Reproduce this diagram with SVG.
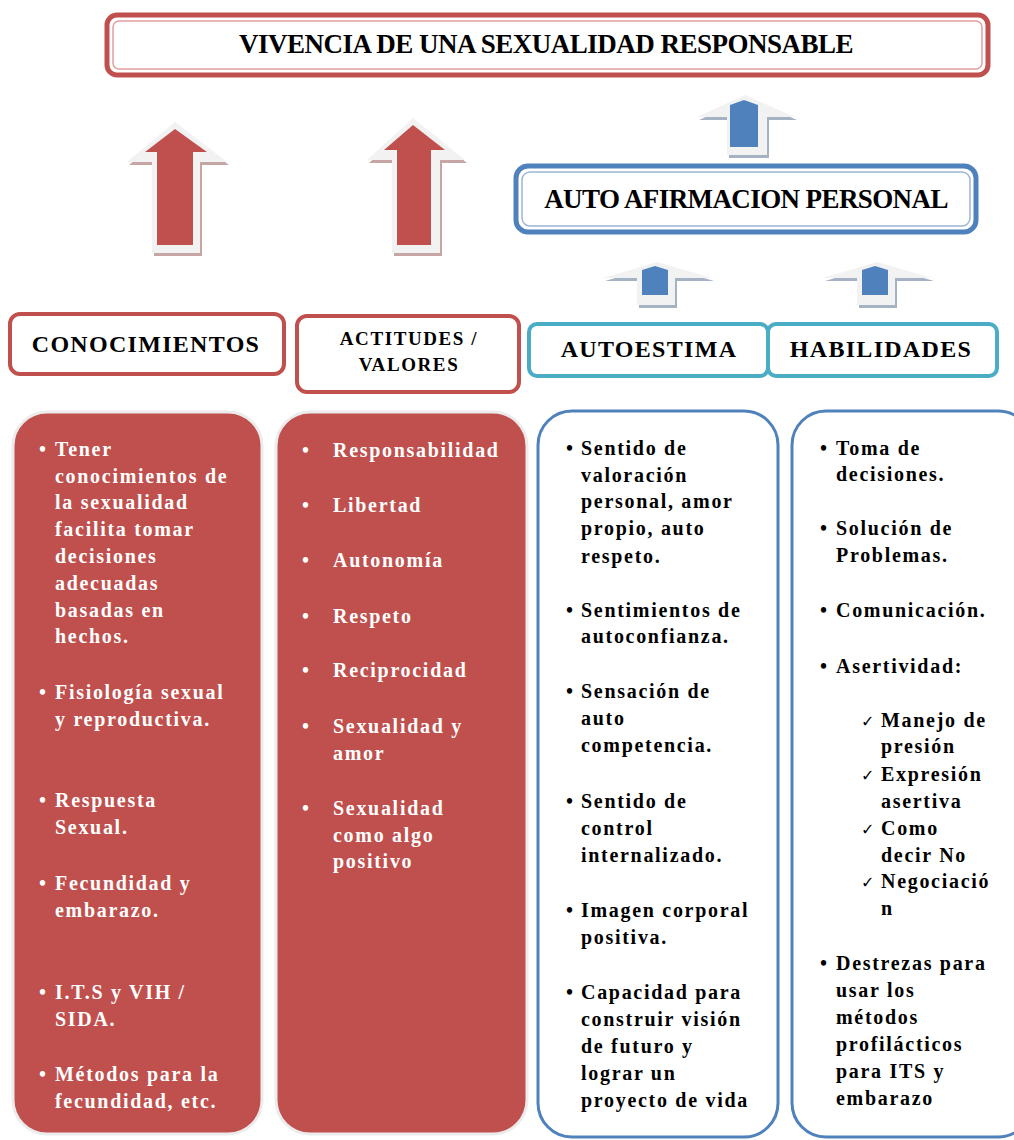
<svg xmlns="http://www.w3.org/2000/svg" width="1014" height="1140" viewBox="0 0 1014 1140">
<style>
.t{font-family:"Liberation Serif","Times New Roman",serif;font-weight:bold;}
.hd{font-size:24px;fill:#000;text-anchor:middle;letter-spacing:1.3px;}
.w{font-size:20px;fill:#fff;letter-spacing:1.7px;}
.b{font-size:20px;fill:#000;letter-spacing:1.7px;}
.redbox{fill:#fff;stroke:#c0504d;stroke-width:4;}
.tealbox{fill:#fff;stroke:#4bacc6;stroke-width:4;}
.redpanel{fill:#c0504d;stroke:#ececec;stroke-width:3;}
.bluepanel{fill:#fff;stroke:#4f81bd;stroke-width:3;}
.ashadow-r{fill:#b98f8f;opacity:0.8;}
.ashadow-b{fill:#8f9fb5;opacity:0.8;}
.aout{fill:#f2f2f2;}
.ared{fill:#c0504d;}
.ablue{fill:#4f81bd;}
.chk{font-family:"DejaVu Sans",sans-serif;font-weight:normal;font-size:16px;letter-spacing:0;}
</style>

<g id="connectors">
  <polygon class="ashadow-r" points="177,125 229,165 202,165 202,256 154,256 154,165 129,165"/>
  <polygon class="aout" points="175,122 227,162 200,162 200,253 152,253 152,162 127,162"/>
  <polygon class="ared" points="175,129 207,152 193,152 193,245 157,245 157,152 145,152"/>
  <polygon class="ashadow-r" points="415,121 467,163 442,163 442,256 394,256 394,163 369,163"/>
  <polygon class="aout" points="413,118 465,160 440,160 440,253 392,253 392,160 367,160"/>
  <polygon class="ared" points="413,125 445,150 431,150 431,245 397,245 397,150 384,150"/>
  <polygon class="ashadow-b" points="747,98 797,120 769,120 769,158 729,158 729,120 699,120"/>
  <polygon class="aout" points="745,95 795,117 767,117 767,155 727,155 727,117 697,117"/>
  <polygon class="ablue" points="744,100 758,105 758,147 730,147 730,105"/>
  <polygon class="ashadow-b" points="659,265 714,281 677,281 677,308 639,308 639,281 605,281"/>
  <polygon class="aout" points="657,262 712,278 675,278 675,305 637,305 637,278 603,278"/>
  <polygon class="ablue" points="655,266 668,270 668,295 642,295 642,270"/>
  <polygon class="ashadow-b" points="879,265 934,281 897,281 897,308 859,308 859,281 825,281"/>
  <polygon class="aout" points="877,262 932,278 895,278 895,305 857,305 857,278 823,278"/>
  <polygon class="ablue" points="875,266 888,270 888,295 862,295 862,270"/>
</g>

<g id="vivencia">
  <rect x="107" y="15" width="881" height="60" rx="10" fill="#fff" stroke="#c0504d" stroke-width="5"/>
  <rect x="113" y="21" width="869" height="48" rx="6" fill="none" stroke="#e0a09e" stroke-width="1.5"/>
  <text class="t hd" x="546" y="53" style="font-size:27px;letter-spacing:-0.5px">VIVENCIA DE UNA SEXUALIDAD RESPONSABLE</text>
</g>

<g id="autoafirmacion">
  <rect x="516" y="166" width="460" height="66" rx="12" fill="#fff" stroke="#4f81bd" stroke-width="5"/>
  <rect x="522" y="172" width="448" height="54" rx="8" fill="none" stroke="#9cb5d8" stroke-width="1.5"/>
  <text class="t hd" x="746" y="208" style="font-size:27px;letter-spacing:-0.6px">AUTO AFIRMACION PERSONAL</text>
</g>

<g id="conocimientos">
  <rect class="redbox" x="10" y="314" width="274" height="60" rx="10"/>
  <text class="t hd" x="146" y="352">CONOCIMIENTOS</text>
</g>

<g id="actitudes">
  <rect class="redbox" x="297" y="316" width="222" height="76" rx="10"/>
  <text class="t hd" x="409" y="345" style="font-size:19px;letter-spacing:1.6px">ACTITUDES /</text>
  <text class="t hd" x="409" y="371" style="font-size:19px;letter-spacing:1.6px">VALORES</text>
</g>

<g id="autoestima">
  <rect class="tealbox" x="529" y="324" width="239" height="52" rx="8"/>
  <text class="t hd" x="649" y="357">AUTOESTIMA</text>
</g>

<g id="habilidades">
  <rect class="tealbox" x="768" y="324" width="229" height="52" rx="8"/>
  <text class="t hd" x="881" y="357">HABILIDADES</text>
</g>

<g id="panel-conocimientos">
  <rect class="redpanel" x="13" y="412" width="249" height="722" rx="34"/>
  <g class="t w">
    <text x="39" y="456">•</text><text x="55" y="456">Tener</text>
    <text x="55" y="483">conocimientos de</text>
    <text x="55" y="509">la sexualidad</text>
    <text x="55" y="536">facilita tomar</text>
    <text x="55" y="563">decisiones</text>
    <text x="55" y="590">adecuadas</text>
    <text x="55" y="617">basadas en</text>
    <text x="55" y="643">hechos.</text>
    <text x="39" y="699">•</text><text x="55" y="699">Fisiología sexual</text>
    <text x="55" y="726">y reproductiva.</text>
    <text x="39" y="807">•</text><text x="55" y="807">Respuesta</text>
    <text x="55" y="834">Sexual.</text>
    <text x="39" y="890">•</text><text x="55" y="890">Fecundidad y</text>
    <text x="55" y="917">embarazo.</text>
    <text x="39" y="999">•</text><text x="55" y="999">I.T.S y VIH /</text>
    <text x="55" y="1026">SIDA.</text>
    <text x="39" y="1081">•</text><text x="55" y="1081">Métodos para la</text>
    <text x="55" y="1108">fecundidad, etc.</text>
  </g>
</g>

<g id="panel-actitudes">
  <rect class="redpanel" x="276" y="412" width="251" height="722" rx="34"/>
  <g class="t w">
    <text x="302" y="457">•</text><text x="333" y="457">Responsabilidad</text>
    <text x="302" y="512">•</text><text x="333" y="512">Libertad</text>
    <text x="302" y="567">•</text><text x="333" y="567">Autonomía</text>
    <text x="302" y="623">•</text><text x="333" y="623">Respeto</text>
    <text x="302" y="677">•</text><text x="333" y="677">Reciprocidad</text>
    <text x="302" y="733">•</text><text x="333" y="733">Sexualidad y</text>
    <text x="333" y="760">amor</text>
    <text x="302" y="815">•</text><text x="333" y="815">Sexualidad</text>
    <text x="333" y="842">como algo</text>
    <text x="333" y="868">positivo</text>
  </g>
</g>

<g id="panel-autoestima">
  <rect class="bluepanel" x="538" y="411" width="240" height="726" rx="34"/>
  <g class="t b">
    <text x="566" y="455">•</text><text x="581" y="455">Sentido de</text>
    <text x="581" y="482">valoración</text>
    <text x="581" y="508">personal, amor</text>
    <text x="581" y="535">propio, auto</text>
    <text x="581" y="563">respeto.</text>
    <text x="566" y="617">•</text><text x="581" y="617">Sentimientos de</text>
    <text x="581" y="643">autoconfianza.</text>
    <text x="566" y="698">•</text><text x="581" y="698">Sensación de</text>
    <text x="581" y="725">auto</text>
    <text x="581" y="752">competencia.</text>
    <text x="566" y="808">•</text><text x="581" y="808">Sentido de</text>
    <text x="581" y="835">control</text>
    <text x="581" y="862">internalizado.</text>
    <text x="566" y="917">•</text><text x="581" y="917">Imagen corporal</text>
    <text x="581" y="944">positiva.</text>
    <text x="566" y="999">•</text><text x="581" y="999">Capacidad para</text>
    <text x="581" y="1026">construir visión</text>
    <text x="581" y="1053">de futuro y</text>
    <text x="581" y="1080">lograr un</text>
    <text x="581" y="1107">proyecto de vida</text>
  </g>
</g>

<g id="panel-habilidades">
  <rect class="bluepanel" x="792" y="411" width="240" height="726" rx="34"/>
  <g class="t b">
    <text x="820" y="455">•</text><text x="836" y="455">Toma de</text>
    <text x="836" y="481">decisiones.</text>
    <text x="820" y="535">•</text><text x="836" y="535">Solución de</text>
    <text x="836" y="562">Problemas.</text>
    <text x="820" y="617">•</text><text x="836" y="617">Comunicación.</text>
    <text x="820" y="673">•</text><text x="836" y="673">Asertividad:</text>
    <text class="chk" x="861" y="727">✓</text><text x="881" y="727">Manejo de</text>
    <text x="881" y="753">presión</text>
    <text class="chk" x="861" y="781">✓</text><text x="881" y="781">Expresión</text>
    <text x="881" y="808">asertiva</text>
    <text class="chk" x="861" y="835">✓</text><text x="881" y="835">Como</text>
    <text x="881" y="862">decir No</text>
    <text class="chk" x="861" y="888">✓</text><text x="881" y="888">Negociació</text>
    <text x="881" y="915">n</text>
    <text x="820" y="970">•</text><text x="836" y="970">Destrezas para</text>
    <text x="836" y="997">usar los</text>
    <text x="836" y="1024">métodos</text>
    <text x="836" y="1051">profilácticos</text>
    <text x="836" y="1078">para ITS y</text>
    <text x="836" y="1105">embarazo</text>
  </g>
</g>
</svg>
